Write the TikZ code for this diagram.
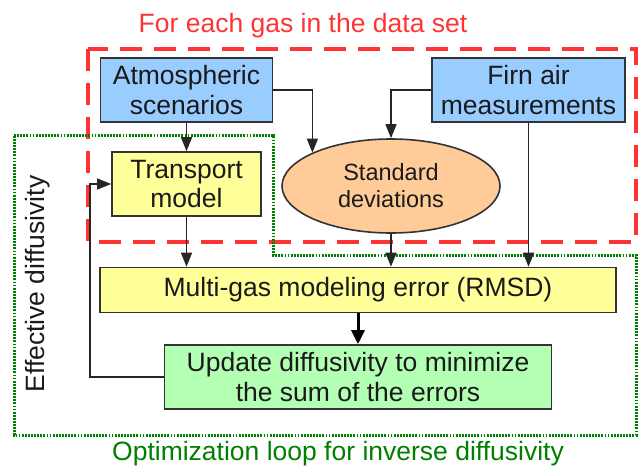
\documentclass[tikz,border=0pt]{standalone}
\usepackage{fontspec}
\setmainfont{Liberation Sans}
\usetikzlibrary{arrows.meta,shapes.geometric}
\definecolor{boxblue}{HTML}{99CCFF}
\definecolor{boxyellow}{HTML}{FFFF99}
\definecolor{boxorange}{HTML}{FFCC99}
\definecolor{boxgreen}{HTML}{B3FFB3}
\definecolor{edge}{HTML}{333333}
\definecolor{txt}{HTML}{1A1A1A}
\definecolor{redframe}{HTML}{FF3333}
\definecolor{greenframe}{HTML}{008000}
\tikzset{
  bigfont/.style={font=\fontsize{26.5}{29.5}\selectfont},
  procbox/.style={draw=edge, line width=1.6pt, rectangle, align=center, text=txt, bigfont, inner sep=0pt},
  arr/.style={draw=black!85, line width=1.5pt, -{Triangle[length=14pt,width=11pt]}},
  thickarr/.style={draw=black, line width=3pt, -{Triangle[length=14pt,width=13pt]}},
  redbox/.style={draw=redframe, line width=3.5pt, dash pattern=on 22pt off 12pt},
  greenbox/.style={draw=greenframe, line width=3pt, dash pattern=on 1.8pt off 1.3pt},
}
\begin{document}
\begin{tikzpicture}[x=1pt,y=-1pt]
\useasboundingbox (0,0) rectangle (638,469);
% frames
\draw[redbox] (88,49) rectangle (636,242);
\draw[greenbox] (14,135) -- (273,135) -- (273,255) -- (636,255) -- (636,435) -- (14,435) -- cycle;
% titles
\node[text=redframe, bigfont] (title) at (303,26) {For each gas in the data set};
\node[text=greenframe, bigfont] (opt) at (338,454) {Optimization loop for inverse diffusivity};
\node[text=txt, bigfont, rotate=90] (eff) at (38,284) {Effective diffusivity};
% nodes
\node[procbox, fill=boxblue, minimum width=172pt, minimum height=64pt] (atm) at (186.5,90) {Atmospheric\\scenarios};
\node[procbox, fill=boxblue, minimum width=193pt, minimum height=64pt] (firn) at (528.5,90) {Firn air\\measurements};
\node[procbox, fill=boxyellow, minimum width=149pt, minimum height=64pt] (trans) at (186.5,184) {Transport\\model};
\node[draw=edge, line width=1.6pt, ellipse, fill=boxorange, minimum width=218pt, minimum height=94pt, inner sep=0pt, align=center, text=txt, font=\fontsize{23.5}{27}\selectfont] (sd) at (391,186) {Standard\\deviations};
\node[procbox, fill=boxyellow, minimum width=516pt, minimum height=45pt] (multi) at (358,290) {Multi-gas modeling error (RMSD)};
\node[procbox, fill=boxgreen, minimum width=387pt, minimum height=64pt] (upd) at (358,377) {Update diffusivity to minimize\\the sum of the errors};
\coordinate (loop) at (90,184);
% connectors
\draw[arr] (atm.south) -- (trans.north);
\draw[arr] (atm.east) -| (sd.157);
\draw[arr] (firn.west) -| (sd.north);
\draw[arr] (firn.south) -- (firn.south |- multi.north);
\draw[arr] (trans.south) -- (trans.south |- multi.north);
\draw[arr] (sd.south) -- (sd.south |- multi.north);
\draw[thickarr] (multi.south) -- (upd.north);
\draw[arr] (upd.west) -| (loop) -- (trans.west);
\end{tikzpicture}
\end{document}
